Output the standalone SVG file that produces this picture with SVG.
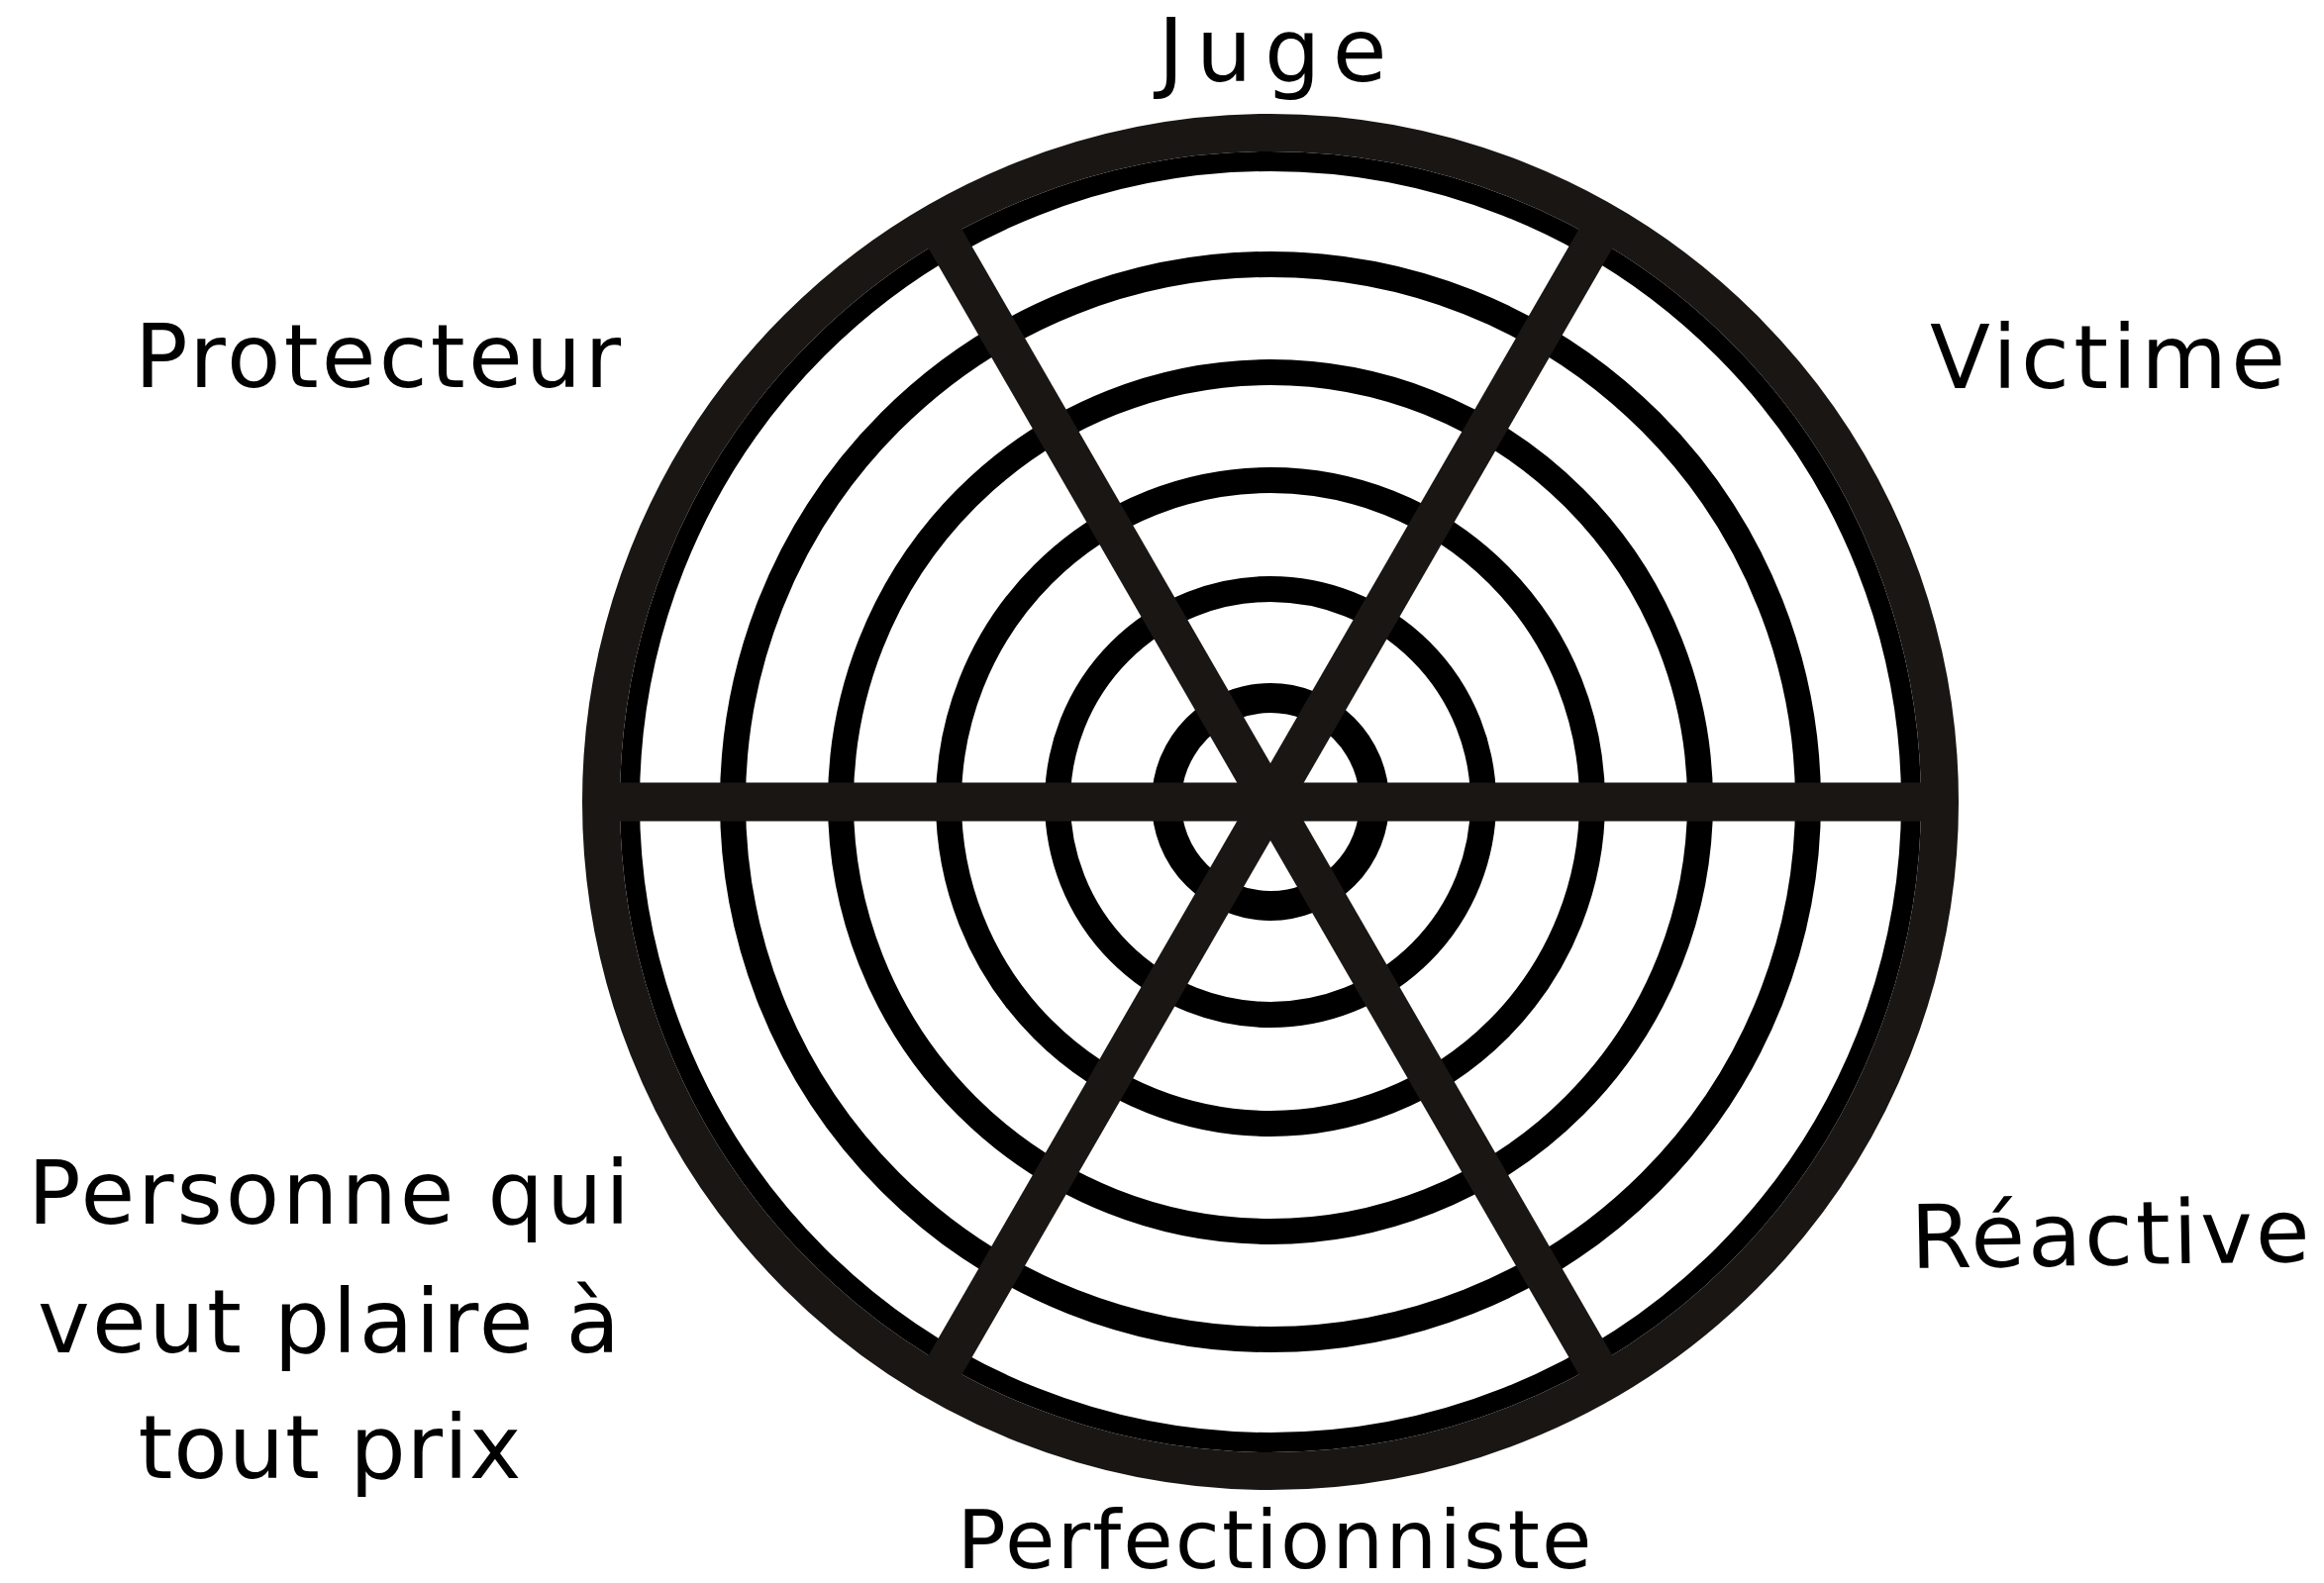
<svg xmlns="http://www.w3.org/2000/svg" width="2347" height="1599" viewBox="0 0 2347 1599">
<style>
.ring{fill:none;stroke:#000;stroke-width:26}
.spoke{stroke:#1a1614;stroke-width:39;stroke-linecap:butt}
.lbl{font-family:"DejaVu Sans","Noto Sans","Liberation Sans",sans-serif;font-size:89px;fill:#000}
</style>
<rect width="2347" height="1599" fill="#fff"/>
<g id="wheel">
<circle class="ring" cx="1283" cy="810" r="105" style="stroke-width:30"/>
<circle class="ring" cx="1283" cy="810" r="215"/>
<circle class="ring" cx="1283" cy="810" r="325"/>
<circle class="ring" cx="1283" cy="810" r="434"/>
<circle class="ring" cx="1283" cy="810" r="543"/>
<circle class="ring" cx="1283" cy="810" r="647" style="stroke-width:20"/>
</g>
<g id="connectors">
<line class="spoke" x1="608" y1="810" x2="1958" y2="810"/>
<line class="spoke" x1="945.5" y1="225.4" x2="1620.5" y2="1394.6"/>
<line class="spoke" x1="1620.5" y1="225.4" x2="945.5" y2="1394.6"/>
</g>
<g id="rim">
<circle cx="1283" cy="810" r="676" fill="none" stroke="#1a1614" stroke-width="38"/>
</g>
<g id="juge"><text class="lbl" x="1285" y="82" text-anchor="middle" textLength="231">Juge</text></g>
<g id="victime"><text class="lbl" x="1949" y="392" textLength="359">Victime</text></g>
<g id="protecteur"><text class="lbl" x="136" y="391" textLength="491">Protecteur</text></g>
<g id="reactive"><text class="lbl" x="1930" y="1281" textLength="403" transform="rotate(-1 1930 1281)">Réactive</text></g>
<g id="perfectionniste"><text class="lbl" x="1287" y="1584" text-anchor="middle" textLength="641" style="font-size:82px">Perfectionniste</text></g>
<g id="personne">
<text class="lbl" x="332" y="1236" text-anchor="middle" textLength="608">Personne qui</text>
<text class="lbl" x="332" y="1366" text-anchor="middle" textLength="588">veut plaire à</text>
<text class="lbl" x="333" y="1493" text-anchor="middle" textLength="387">tout prix</text>
</g>
</svg>
